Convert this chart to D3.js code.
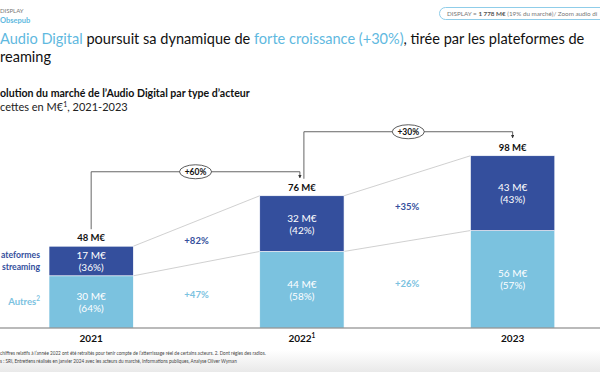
<!DOCTYPE html>
<html>
<head>
<meta charset="utf-8">
<script src="https://cdn.jsdelivr.net/npm/d3@7"></script>
<style>
  body { margin: 0; background: #fff; }
  svg { display: block; font-family: Lato, "Open Sans", sans-serif; }
</style>
</head>
<body>
<div id="chart"></div>
<script>
// data
var years = ["2021", "2022", "2023"];
var yearLabels = ["2021", "2022", "2023"];
var yearSup = ["", "1", ""];
var autres = [30, 44, 56];
var streaming = [17, 32, 43];
var totals = [48, 76, 98];
var autresPct = ["64%", "58%", "57%"];
var streamingPct = ["36%", "42%", "43%"];
var streamingGrowth = ["+82%", "+35%"];
var autresGrowth = ["+47%", "+26%"];
var totalGrowth = ["+60%", "+30%"];

var dark = "#344f9d", light = "#7bc2df", accent = "#5fb9e0";
var W = 600, H = 372;

var svg = d3.select("#chart").append("svg")
    .attr("width", W)
    .attr("height", H);

// bottom fade
var defs = svg.append("defs");
var grad = defs.append("linearGradient").attr("id", "fade").attr("x1", 0).attr("y1", 0).attr("x2", 0).attr("y2", 1);
grad.append("stop").attr("offset", 0).attr("stop-color", "#fff");
grad.append("stop").attr("offset", 1).attr("stop-color", "#e9e9e9");
svg.append("rect").attr("x", 0).attr("y", 350).attr("width", W).attr("height", 22).attr("fill", "url(#fade)");

// header
svg.append("text").attr("x", 0).attr("y", 13).attr("font-size", 6).attr("fill", "#777").text("DISPLAY");
svg.append("text").attr("x", 0).attr("y", 23).attr("font-size", 7.5).attr("font-weight", "bold").attr("fill", accent).text("Obsepub");

svg.append("rect").attr("x", 439.5).attr("y", 7.5).attr("width", 180).attr("height", 12).attr("rx", 6)
    .attr("fill", "#fff").attr("stroke", "#8fcde9").attr("stroke-width", 1);
var pill = svg.append("text").attr("x", 447).attr("y", 16).attr("font-size", 6.3).attr("fill", "#777");
pill.append("tspan").text("DISPLAY = ");
pill.append("tspan").attr("font-weight", "bold").attr("fill", "#555").text("1 778 M€");
pill.append("tspan").text(" (19% du marché)/ Zoom audio di");

function fit(sel, width) {
  var len = sel.node().getComputedTextLength();
  var fs = parseFloat(sel.attr("font-size"));
  sel.attr("font-size", fs * width / len);
}

var title = svg.append("text").attr("x", 0).attr("y", 44).attr("font-size", 17).attr("fill", "#111");
title.append("tspan").attr("fill", accent).text("Audio Digital");
title.append("tspan").text(" poursuit sa dynamique de ");
title.append("tspan").attr("fill", accent).text("forte croissance (+30%)");
title.append("tspan").text(", tirée par les plateformes de");
fit(title, 585);
svg.append("text").attr("x", 0).attr("y", 62).attr("font-size", title.attr("font-size")).attr("fill", "#111").text("reaming");

var sub = svg.append("text").attr("x", 0).attr("y", 97).attr("font-size", 11).attr("font-weight", "bold").attr("fill", "#111")
    .text("olution du marché de l’Audio Digital par type d’acteur");
fit(sub, 250);
var sub2 = svg.append("text").attr("x", 0).attr("y", 111).attr("font-size", 11).attr("fill", "#222");
sub2.append("tspan").text("cettes en M€");
sub2.append("tspan").attr("font-size", 7).attr("dy", -4).text("1");
sub2.append("tspan").attr("dy", 4).text(", 2021-2023");

// scales
var x = d3.scaleBand().domain(years).range([-14.2, 618]).paddingInner(0.6).paddingOuter(0.3);
var y = d3.scaleLinear().domain([0, 100]).range([328, 154]);
var bw = x.bandwidth();

var rows = years.map(function(yr, i) {
  return { year: yr, autres: autres[i], streaming: streaming[i], total: totals[i] };
});
var series = d3.stack().keys(["autres", "streaming"])(rows);

// connectors between bars
var g = svg.append("g");
series.forEach(function(s) {
  for (var i = 0; i < years.length - 1; i++) {
    g.append("line")
      .attr("x1", x(years[i]) + bw).attr("y1", y(s[i][1]))
      .attr("x2", x(years[i + 1])).attr("y2", y(s[i + 1][1]))
      .attr("stroke", "#c4c4c4").attr("stroke-width", 0.8);
  }
});

// bars
var colors = { autres: light, streaming: dark };
series.forEach(function(s) {
  g.selectAll(null).data(s).enter().append("rect")
    .attr("x", function(d) { return x(d.data.year); })
    .attr("y", function(d) { return y(d[1]); })
    .attr("width", bw)
    .attr("height", function(d) { return y(d[0]) - y(d[1]); })
    .attr("fill", colors[s.key])
    .attr("stroke", "#fff").attr("stroke-width", 0.6);
});

// segment labels
function segLabel(s, vals, pcts) {
  s.forEach(function(d, i) {
    var cx = x(d.data.year) + bw / 2, cy = (y(d[0]) + y(d[1])) / 2;
    var t = g.append("text").attr("text-anchor", "middle").attr("font-size", 10).attr("fill", "#fff");
    t.append("tspan").attr("x", cx).attr("y", cy - 2).text(vals[i] + " M€");
    t.append("tspan").attr("x", cx).attr("y", cy + 10).text("(" + pcts[i] + ")");
  });
}
segLabel(series[0], autres, autresPct);
segLabel(series[1], streaming, streamingPct);

// totals
g.selectAll(null).data(rows).enter().append("text")
  .attr("x", function(d) { return x(d.year) + bw / 2; })
  .attr("y", function(d) { return y(d.autres + d.streaming) - 5; })
  .attr("text-anchor", "middle").attr("font-size", 9.5).attr("font-weight", "bold").attr("fill", "#111")
  .text(function(d) { return d.total + " M€"; });

// growth between segments
function growth(s, labels, color) {
  for (var i = 0; i < labels.length; i++) {
    var cx = (x(years[i]) + bw + x(years[i + 1])) / 2;
    var cy = ((y(s[i][0]) + y(s[i][1])) / 2 + (y(s[i + 1][0]) + y(s[i + 1][1])) / 2) / 2;
    g.append("text").attr("x", cx).attr("y", cy + 2).attr("text-anchor", "middle")
      .attr("font-size", 9.5).attr("font-weight", "bold").attr("fill", color).text(labels[i]);
  }
}
growth(series[1], streamingGrowth, dark);
growth(series[0], autresGrowth, light);

// total growth brackets
svg.append("defs").append("marker").attr("id", "arr").attr("viewBox", "0 0 6 6").attr("refX", 5).attr("refY", 3)
  .attr("markerWidth", 4).attr("markerHeight", 4).attr("orient", "auto")
  .append("path").attr("d", "M0,0L6,3L0,6Z").attr("fill", "#333");
for (var i = 0; i < totalGrowth.length; i++) {
  var x0 = x(years[i]) + bw / 2 + (i > 0 ? 2 : 0);
  var x1 = x(years[i + 1]) + bw / 2 - (i + 1 < years.length - 1 ? 2 : 0);
  var topSrc = y(autres[i] + streaming[i]) - 17;
  var topDst = y(autres[i + 1] + streaming[i + 1]) - 17;
  var by = topDst - 7;
  g.append("path")
    .attr("d", "M" + x0 + "," + topSrc + "V" + by + "H" + x1 + "V" + (topDst - 1))
    .attr("fill", "none").attr("stroke", "#555").attr("stroke-width", 0.9)
    .attr("marker-end", "url(#arr)");
  var mx = (x0 + x1) / 2;
  g.append("ellipse").attr("cx", mx).attr("cy", by).attr("rx", 16).attr("ry", 7)
    .attr("fill", "#fff").attr("stroke", "#333").attr("stroke-width", 0.8);
  g.append("text").attr("x", mx).attr("y", by + 3).attr("text-anchor", "middle")
    .attr("font-size", 8.5).attr("font-weight", "bold").attr("fill", "#111").text(totalGrowth[i]);
}

// axis
var axis = svg.append("g").attr("transform", "translate(0,328)")
  .call(d3.axisBottom(x).tickSize(0).tickPadding(7).tickFormat(function(d, i) { return yearLabels[i]; }));
axis.select(".domain").attr("d", "M0,0H600").attr("stroke", "#777").attr("stroke-width", 1.2);
axis.selectAll(".tick text").attr("font-size", 10).attr("font-weight", "bold").attr("fill", "#111")
  .attr("font-family", "Lato, sans-serif")
  .each(function(d, i) {
    if (yearSup[i]) d3.select(this).append("tspan").attr("font-size", 6.5).attr("dy", -4).text(yearSup[i]);
  });

// legend on the left
var leg = svg.append("text").attr("text-anchor", "end").attr("font-size", 9.5).attr("font-weight", "bold").attr("fill", dark);
leg.append("tspan").attr("x", 40).attr("y", 258).attr("textLength", 39).attr("lengthAdjust", "spacingAndGlyphs").text("ateformes");
leg.append("tspan").attr("x", 40).attr("y", 270).attr("textLength", 38).attr("lengthAdjust", "spacingAndGlyphs").text("streaming");
var leg2 = svg.append("text").attr("x", 40).attr("y", 305).attr("text-anchor", "end").attr("font-size", 9.5)
  .attr("font-weight", "bold").attr("fill", light);
leg2.append("tspan").text("Autres");
leg2.append("tspan").attr("font-size", 6.5).attr("dy", -4).text("2");

// footnotes
var fn1 = svg.append("text").attr("x", 0).attr("y", 355).attr("font-size", 5.4).attr("fill", "#444")
  .text("chiffres relatifs à l’année 2022 ont été retraités pour tenir compte de l’atterrissage réel de certains acteurs. 2. Dont régies des radios.");
fit(fn1, 266);
var fn2 = svg.append("text").attr("x", 0).attr("y", 363).attr("font-size", 5.4).attr("fill", "#444")
  .text("s : SRI, Entretiens réalisés en janvier 2024 avec les acteurs du marché, Informations publiques, Analyse Oliver Wyman");
fit(fn2, 237);
</script>
</body>
</html>
